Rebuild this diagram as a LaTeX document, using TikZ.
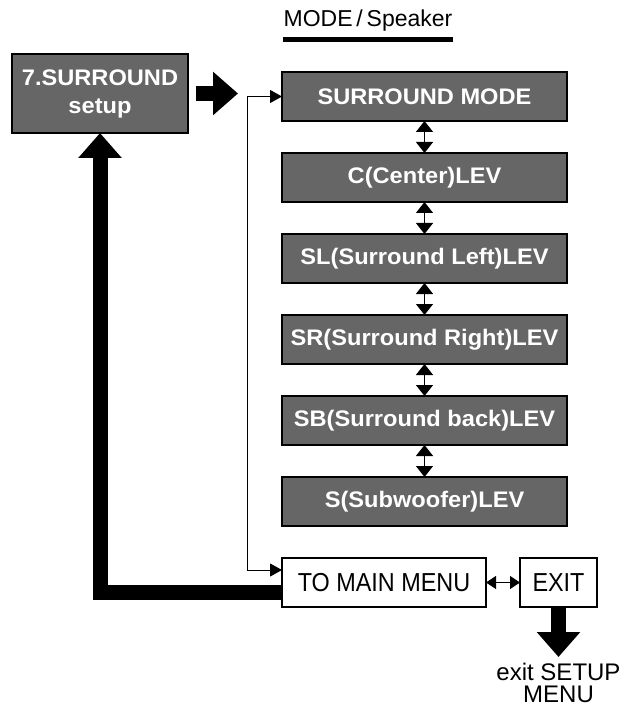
\documentclass[tikz,border=0pt]{standalone}
\usepackage{fontspec}
\setmainfont{Liberation Sans}
\newfontfamily\menufont{Liberation Sans}[FakeStretch=0.9]
\newfontfamily\boxfont{Liberation Sans}[FakeStretch=1.05]
\usetikzlibrary{arrows.meta,positioning}
\definecolor{boxgray}{RGB}{102,102,102}

\begin{document}
\begin{tikzpicture}[
  x=1pt, y=-1pt,
  node distance=32pt,
  stage/.style={draw=black, line width=1.3pt, align=center, inner sep=0pt, outer sep=0pt},
  darks/.style={stage, fill=boxgray, text=white,
               font=\boxfont\bfseries\fontsize{22.5}{28}\selectfont,
               minimum width=285pt, minimum height=49pt},
  plains/.style={stage, fill=white, font=\menufont\fontsize{26}{28}\selectfont,
               minimum height=49pt},
  fat/.style={line width=15pt, -{Triangle[length=25pt,width=42pt]}},
  link/.style={line width=1.3pt,
               {Triangle[length=11pt,width=17pt]}-{Triangle[length=11pt,width=17pt]}},
  feed/.style={line width=1pt,
               {Triangle[length=12pt,width=13pt]}-{Triangle[length=12pt,width=13pt]}},
  swap/.style={line width=1.2pt,
               {Triangle[length=10pt,width=13pt]}-{Triangle[length=10pt,width=13pt]}},
  ]
  \useasboundingbox (0,0) rectangle (629,708);
  \node[font=\fontsize{23}{28}\selectfont, inner sep=0pt, anchor=base] (hdr) at (368,27) {MODE\,/\,Speaker};
  \draw[line width=5pt] ([yshift=-13pt]hdr.base west) -- ([yshift=-13pt]hdr.base east);
  \node[darks, minimum width=176pt, minimum height=79pt] (setup) at (100,93.5) {7.SURROUND\\setup};
  \node[darks] (s1) at (424.5,96.5) {SURROUND MODE};
  \node[darks, below=of s1] (s2) {C(Center)LEV};
  \node[darks, below=of s2] (s3) {SL(Surround Left)LEV};
  \node[darks, below=of s3] (s4) {SR(Surround Right)LEV};
  \node[darks, below=of s4] (s5) {SB(Surround back)LEV};
  \node[darks, below=of s5] (s6) {S(Subwoofer)LEV};
  \node[plains, minimum width=204pt, below=of s6.south west, anchor=north west] (menu) {TO MAIN MENU};
  \node[plains, minimum width=77pt, right=34pt of menu] (exit) {EXIT};
  \coordinate[right=50pt of setup.east] (fwd);
  \coordinate (rail) at (247,0);
  \coordinate[below=50pt of exit.south] (tip);
  \node[font=\fontsize{24}{22}\selectfont, align=center, inner sep=0pt,
        below=6pt of tip] (bye) {exit SETUP\\MENU};
  \draw[fat] ([xshift=8pt]setup.east) -- (fwd);
  \draw[fat] ([yshift=-9.5pt]menu.west) -| (setup.south);
  \draw[fat] (exit.south) -- (tip);
  \draw[feed] ([yshift=12.5pt]menu.west) -| (rail |- s1.west) -- (s1.west);
  \draw[link] (s1) -- (s2);
  \draw[link] (s2) -- (s3);
  \draw[link] (s3) -- (s4);
  \draw[link] (s4) -- (s5);
  \draw[link] (s5) -- (s6);
  \draw[swap] (menu) -- (exit);
\end{tikzpicture}
\end{document}
